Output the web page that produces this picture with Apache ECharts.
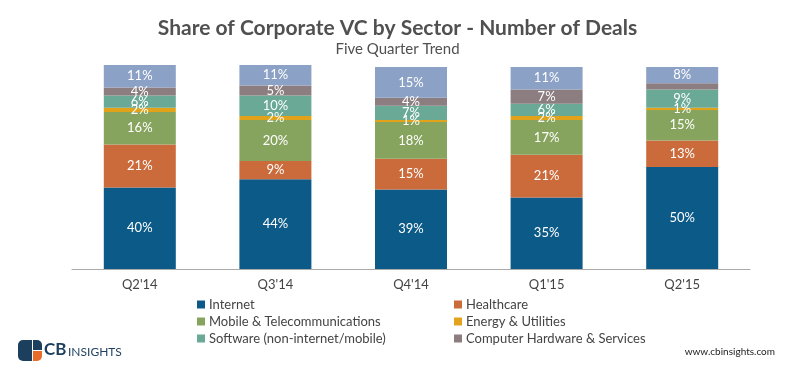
<!DOCTYPE html>
<html>
<head>
<meta charset="utf-8">
<script src="https://cdn.jsdelivr.net/npm/echarts@6/dist/echarts.min.js"></script>
<style>html,body{margin:0;padding:0;background:#fff;}#c{width:795px;height:381px;}</style>
</head>
<body>
<div id="c"></div>
<script>
const categories = ["Q2'14", "Q3'14", "Q4'14", "Q1'15", "Q2'15"];
const internet = [40, 44, 39, 35, 50];
const healthcare = [21, 9, 15, 21, 13];
const mobile = [16, 20, 18, 17, 15];
const energy = [2, 2, 1, 2, 1];
const software = [6, 10, 7, 6, 9];
const hardware = [4, 5, 4, 7, 3];
const other = [11, 11, 15, 11, 8];
const hiddenLabels = { "Computer Hardware & Services": [4] };

const seriesDefs = [
  ["Internet", internet, "#0c5a87"],
  ["Healthcare", healthcare, "#cb6b3b"],
  ["Mobile & Telecommunications", mobile, "#87a45e"],
  ["Energy & Utilities", energy, "#e2a31b"],
  ["Software (non-internet/mobile)", software, "#69a996"],
  ["Computer Hardware & Services", hardware, "#8b7d80"],
  ["Other", other, "#8ba1c5"]
];

const FONT = "Lato, 'Open Sans', sans-serif";

const series = seriesDefs.map(([name, vals, color]) => ({
  name: name,
  type: 'bar',
  stack: 'total',
  barWidth: 72,
  itemStyle: { color: color },
  data: vals.map((v, i) => {
    const hide = hiddenLabels[name] && hiddenLabels[name].includes(i);
    return hide ? { value: v, label: { show: false } } : v;
  }),
  label: {
    show: true,
    position: 'inside',
    formatter: '{c}%',
    color: '#fff',
    fontFamily: FONT,
    fontSize: 13
  },
  emphasis: { disabled: true }
}));

const legendPos = [
  ["Internet", 192, 293],
  ["Healthcare", 449, 293],
  ["Mobile & Telecommunications", 192, 310],
  ["Energy & Utilities", 449, 310],
  ["Software (non-internet/mobile)", 192, 327],
  ["Computer Hardware & Services", 449, 327]
];

const legends = legendPos.map(([name, x, y]) => ({
  data: [name],
  left: x,
  top: y,
  icon: 'rect',
  itemWidth: 8,
  itemHeight: 8,
  itemGap: 4,
  selectedMode: false,
  textStyle: { color: '#444', fontFamily: FONT, fontSize: 13, padding: [0, 0, 0, -1] }
}));

const chart = echarts.init(document.getElementById('c'));
chart.setOption({
  animation: false,
  backgroundColor: '#fff',
  title: [
    {
      text: 'Share of Corporate VC by Sector - Number of Deals',
      left: 'center',
      top: 13,
      textStyle: { color: '#505050', fontFamily: FONT, fontSize: 21, fontWeight: 'bold' }
    },
    {
      text: 'Five Quarter Trend',
      left: 'center',
      top: 37,
      textStyle: { color: '#505050', fontFamily: FONT, fontSize: 15, fontWeight: 'normal' }
    }
  ],
  legend: legends,
  grid: { left: 72, right: 45, top: 65, bottom: 112 },
  xAxis: {
    type: 'category',
    data: categories,
    axisLine: { lineStyle: { color: '#aaa' } },
    axisTick: { show: false },
    axisLabel: { color: '#444', fontFamily: FONT, fontSize: 13, margin: 9 }
  },
  yAxis: {
    type: 'value',
    min: 0,
    max: 100,
    show: false
  },
  series: series,
  graphic: [
    { type: 'rect', shape: { x: 18, y: 340, width: 14, height: 21, r: [5, 0, 0, 5] }, style: { fill: '#1d3f5e' } },
    { type: 'rect', shape: { x: 33, y: 340, width: 9, height: 10, r: [0, 5, 0, 0] }, style: { fill: '#1d3f5e' } },
    { type: 'rect', shape: { x: 33, y: 351, width: 9, height: 10, r: [0, 0, 5, 0] }, style: { fill: '#e96b2a' } },
    { type: 'text', left: 44, top: 341, style: { text: 'CB', fill: '#1d3f5e', font: 'bold 17px ' + FONT } },
    { type: 'text', left: 68, top: 346, style: { text: 'INSIGHTS', fill: '#1d3f5e', font: '12px ' + FONT } },
    { type: 'text', right: 20, top: 347, style: { text: 'www.cbinsights.com', fill: '#222', font: '10px ' + FONT } }
  ]
});
</script>
</body>
</html>
